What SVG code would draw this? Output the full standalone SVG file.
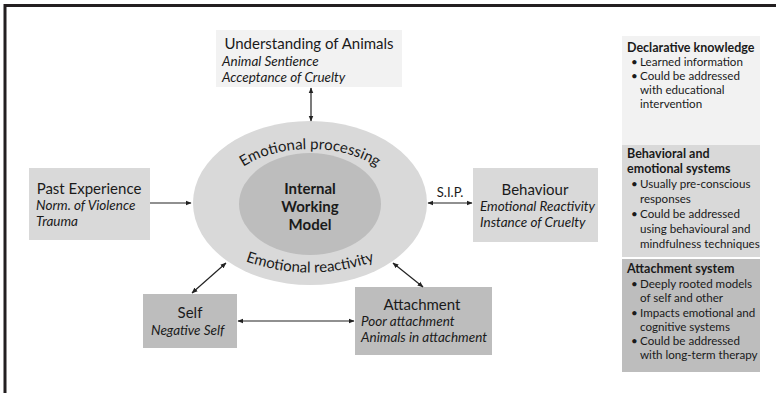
<svg xmlns="http://www.w3.org/2000/svg" width="776" height="393" viewBox="0 0 776 393">
<style>
text{font-family:Lato,"Liberation Sans",sans-serif;fill:#1a1a1a}
.t{font-size:15px}
.i{font-size:13.5px;font-style:italic}
.b{font-weight:bold}
.p{font-size:11.6px}
.ph{font-size:12.5px;font-weight:bold}
.c{stroke:#222;stroke-width:1.2;fill:none}
</style>
<defs>
<marker id="ah" viewBox="0 0 10 10" refX="9" refY="5" markerWidth="6" markerHeight="6" orient="auto-start-reverse" markerUnits="userSpaceOnUse"><path d="M0,1 L10,5 L0,9 z" fill="#222"/></marker>
<path id="arcTop" d="M220,203 A90,54 0 0 1 400,203"/>
<path id="arcBot" d="M230,255 Q310,290 390,255"/>
</defs>
<rect width="776" height="393" fill="#fff"/>
<g id="frame" stroke="#231f20" stroke-width="3">
<line x1="4" y1="5.5" x2="776" y2="5.5"/>
<line x1="5" y1="4" x2="5" y2="393"/>
</g>
<g id="iwm">
<ellipse cx="310" cy="203" rx="117" ry="82" fill="#d9d9d9"/>
<ellipse cx="310" cy="204" rx="71" ry="51" fill="#bdbdbd"/>
<text class="t b" text-anchor="middle" x="310" y="194">Internal</text>
<text class="t b" text-anchor="middle" x="310" y="212">Working</text>
<text class="t b" text-anchor="middle" x="310" y="230">Model</text>
<text class="t"><textPath href="#arcTop" startOffset="50%" text-anchor="middle">Emotional processing</textPath></text>
<text class="t"><textPath href="#arcBot" startOffset="50%" text-anchor="middle">Emotional reactivity</textPath></text>
</g>
<g id="understanding">
<rect x="216" y="30" width="186" height="57" fill="#f2f2f2"/>
<text class="t" text-anchor="middle" x="309" y="49">Understanding of Animals</text>
<text class="i" x="222" y="66">Animal Sentience</text>
<text class="i" x="222" y="82">Acceptance of Cruelty</text>
</g>
<g id="past">
<rect x="29" y="168" width="121" height="72" fill="#d9d9d9"/>
<text class="t" text-anchor="middle" x="89" y="194">Past Experience</text>
<text class="i" x="36" y="210">Norm. of Violence</text>
<text class="i" x="36" y="226">Trauma</text>
</g>
<g id="behaviour">
<rect x="473" y="168" width="125" height="74" fill="#d9d9d9"/>
<text class="t" text-anchor="middle" x="535" y="195">Behaviour</text>
<text class="i" x="480" y="211">Emotional Reactivity</text>
<text class="i" x="480" y="227">Instance of Cruelty</text>
</g>
<g id="self">
<rect x="143" y="294" width="94" height="54" fill="#bdbdbd"/>
<text class="t" text-anchor="middle" x="190" y="318">Self</text>
<text class="i" x="151" y="335">Negative Self</text>
</g>
<g id="attachment">
<rect x="355" y="287" width="137" height="68" fill="#bdbdbd"/>
<text class="t" text-anchor="middle" x="422" y="310">Attachment</text>
<text class="i" x="361" y="326">Poor attachment</text>
<text class="i" x="361" y="342">Animals in attachment</text>
</g>
<g id="connectors">
<line class="c" x1="311" y1="88" x2="311" y2="121" marker-start="url(#ah)" marker-end="url(#ah)"/>
<line class="c" x1="150" y1="203" x2="191" y2="203" marker-end="url(#ah)"/>
<line class="c" x1="428" y1="203" x2="472" y2="203" marker-start="url(#ah)" marker-end="url(#ah)" stroke-width="1.8"/>
<line class="c" x1="192" y1="293" x2="226" y2="263" marker-start="url(#ah)" marker-end="url(#ah)"/>
<line class="c" x1="393" y1="263" x2="423" y2="287" marker-start="url(#ah)" marker-end="url(#ah)"/>
<line class="c" x1="238" y1="321" x2="354" y2="321" marker-start="url(#ah)" marker-end="url(#ah)"/>
<text text-anchor="middle" x="450" y="197" style="font-size:13px">S.I.P.</text>
</g>
<g id="legend">
<rect x="622" y="36" width="138" height="109" fill="#f2f2f2"/>
<rect x="622" y="145" width="138" height="112" fill="#d9d9d9"/>
<rect x="622" y="259" width="138" height="113" fill="#bdbdbd"/>
<text class="ph" x="627" y="52">Declarative knowledge</text>
<text class="p" x="631" y="66">•</text><text class="p" x="640" y="66">Learned information</text>
<text class="p" x="631" y="80">•</text><text class="p" x="640" y="80">Could be addressed</text>
<text class="p" x="640" y="94">with educational</text>
<text class="p" x="640" y="108">intervention</text>
<text class="ph" x="627" y="158">Behavioral and</text>
<text class="ph" x="627" y="173">emotional systems</text>
<text class="p" x="631" y="188">•</text><text class="p" x="640" y="188">Usually pre-conscious</text>
<text class="p" x="640" y="203">responses</text>
<text class="p" x="631" y="218">•</text><text class="p" x="640" y="218">Could be addressed</text>
<text class="p" x="640" y="233">using behavioural and</text>
<text class="p" x="640" y="248">mindfulness techniques</text>
<text class="ph" x="627" y="273">Attachment system</text>
<text class="p" x="631" y="288">•</text><text class="p" x="640" y="288">Deeply rooted models</text>
<text class="p" x="640" y="302">of self and other</text>
<text class="p" x="631" y="317">•</text><text class="p" x="640" y="317">Impacts emotional and</text>
<text class="p" x="640" y="331">cognitive systems</text>
<text class="p" x="631" y="345">•</text><text class="p" x="640" y="345">Could be addressed</text>
<text class="p" x="640" y="359">with long-term therapy</text>
</g>
</svg>
